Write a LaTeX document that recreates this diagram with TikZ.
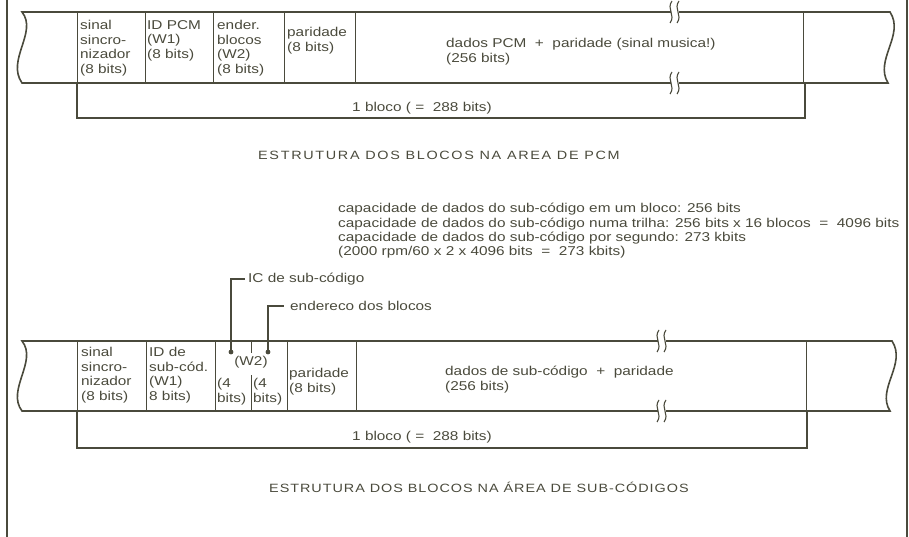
\documentclass[tikz,border=0pt]{standalone}
\usepackage{fontspec}
\setmainfont{Liberation Sans}[FakeStretch=1.2]
\usetikzlibrary{positioning}
\definecolor{ink}{RGB}{74,74,60}

\tikzset{
  gap/.pic={
    \draw[ink, line width=1.1pt] (1,-11) .. controls (-5,-3) and (5,3) .. (-1,11);
    \draw[ink, line width=1.1pt] (8,-11) .. controls (2,-3) and (12,3) .. (6,11);
  }
}

\begin{document}
\begin{tikzpicture}[x=1pt, y=-1pt,
  every node/.style={font=\fontsize{12.8}{14.6}\selectfont, text=ink, inner sep=0pt},
  cell/.style={anchor=north west, align=left},
  edge/.style={draw=ink, line width=1.6pt},
  wall/.style={draw=ink, line width=0.9pt},
  lead/.style={draw=ink, line width=1.3pt},
  title/.style={anchor=west, font=\fontsize{12}{14}\selectfont\addfontfeature{LetterSpace=14}}]
\useasboundingbox (0,0) rectangle (909,537);

% frame
\draw[ink, line width=1.4pt] (7,0) -- (7,537);
\draw[ink, line width=2.4pt] (907,0) -- (907,537);

% PCM block
\draw[edge] (671,12) -- (22,12) .. controls (38,32) and (6,60) .. (22,83) -- (671,83);
\draw[edge] (679,12) -- (890,12) .. controls (905,35) and (874,60) .. (888,83) -- (679,83);
\pic at (671,12) {gap};
\pic at (671,83) {gap};
\foreach \x in {77,145,213,284,355,803}
  \draw[wall] (\x,12) -- (\x,83);

\node[cell] (sync1) at (80,20) {sinal\\sincro-\\nizador\\(8 bits)};
\node[cell] (id1) at (147,20) {ID PCM\\(W1)\\(8 bits)};
\node[cell] (adr1) at (217,20) {ender.\\blocos\\(W2)\\(8 bits)};
\node[cell] (par1) at (287,27) {paridade\\(8 bits)};
\node[cell] (data1) at (446,38) {dados PCM\ \ +\ \ paridade (sinal musica!)\\(256 bits)};

\coordinate (b1l) at (77,83);
\coordinate (b1r) at (805,83);
\draw[edge] (b1l) |- (805,118) -- (b1r);
\node[anchor=west] (len1) at (352,108) {1 bloco ( =\ \ 288 bits)};
\node[title] (t1) at (258,155) {ESTRUTURA DOS BLOCOS NA AREA DE PCM};

% sub-code capacity
\node[cell, font=\fontsize{12.8}{14.4}\selectfont] (cap) at (338,203) {capacidade de dados do sub-código em um bloco: 256 bits\\
capacidade de dados do sub-código numa trilha: 256 bits x 16 blocos\ \ =\ \ 4096 bits\\
capacidade de dados do sub-código por segundo: 273 kbits\\
(2000 rpm/60 x 2 x 4096 bits\ \ =\ \ 273 kbits)};

% sub-code block
\draw[edge] (658,341) -- (22,341) .. controls (38,361) and (6,390) .. (22,411) -- (658,411);
\draw[edge] (666,341) -- (892,341) .. controls (907,364) and (876,389) .. (890,411) -- (666,411);
\pic at (658,341) {gap};
\pic at (658,411) {gap};
\foreach \x in {77,146,215,287,356,806}
  \draw[wall] (\x,341) -- (\x,411);
\draw[wall] (251,341) -- (251,353);
\draw[wall] (251,375) -- (251,411);

\node[cell] (sync2) at (81,347) {sinal\\sincro-\\nizador\\(8 bits)};
\node[cell] (id2) at (149,347) {ID de\\sub-cód.\\(W1)\\8 bits)};
\node (w2) at (251,362) {(W2)};
\node[cell] (ic2) at (217,378) {(4\\bits)};
\node[cell] (adr2) at (253,378) {(4\\bits)};
\node[cell] (par2) at (289,368) {paridade\\(8 bits)};
\node[cell] (data2) at (445,366) {dados de sub-código\ \ +\ \ paridade\\(256 bits)};

\fill[ink] (231,352) circle (2.4) coordinate (icdot);
\fill[ink] (268,352) circle (2.4) coordinate (adrdot);
\node[anchor=west] (iclbl) at (248,279) {IC de sub-código};
\node[anchor=west] (adrlbl) at (290,306) {endereco dos blocos};
\draw[lead] (icdot) |- ([xshift=-3pt]iclbl.west);
\draw[lead] (adrdot) |- ([xshift=-6pt]adrlbl.west);

\coordinate (b2l) at (77,411);
\coordinate (b2r) at (807,411);
\draw[edge] (b2l) |- (807,448) -- (b2r);
\node[anchor=west] (len2) at (352,437) {1 bloco ( =\ \ 288 bits)};
\node[title, font=\fontsize{12}{14}\selectfont\addfontfeature{LetterSpace=8}] (t2) at (269,487) {ESTRUTURA DOS BLOCOS NA ÁREA DE SUB-CÓDIGOS};
\end{tikzpicture}
\end{document}
